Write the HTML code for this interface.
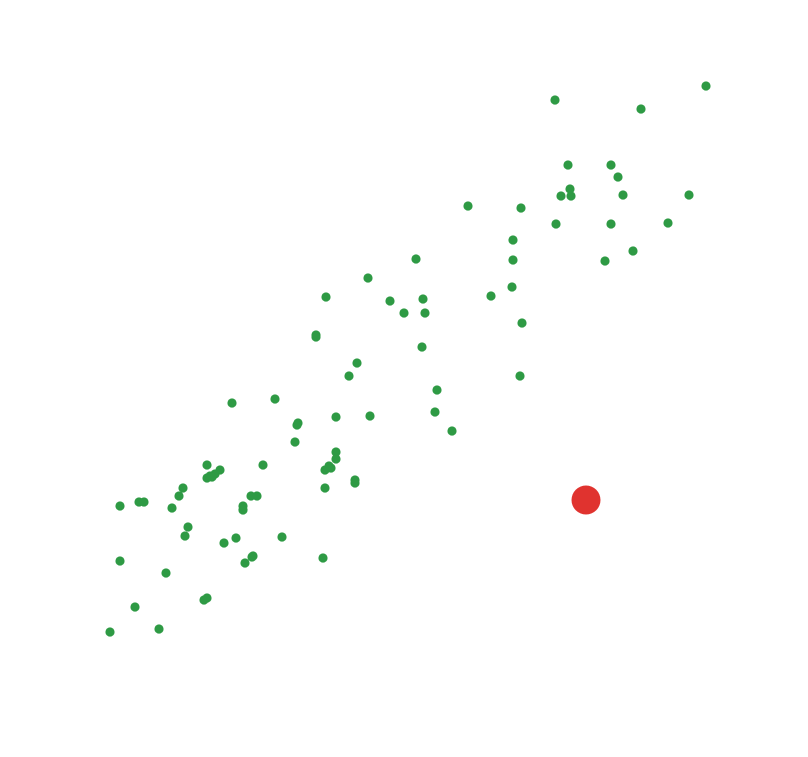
<!DOCTYPE html>
<html>
<head>
<meta charset="utf-8">
<style>
  html,body{margin:0;padding:0;background:#fff;}
  svg{display:block;}
</style>
</head>
<body>
<svg id="chart" width="808" height="757" viewBox="0 0 808 757" xmlns="http://www.w3.org/2000/svg">
  <g id="points"></g>
  <g id="highlight"></g>
</svg>
<script>
// Data values (arbitrary units, x from left origin, y upward from bottom)
const xs = [596,445,531,458,501,508,460,451,461,513,579,358,411,446,501,558,403,523,403,495,306,258,216,280,313,381,402,294,315,412,206,206,312,247,239,410,327,122,165,188,187,325,226,260,342,185,226,226,219,215,221,153,97,110,105,100,97,102,73,69,215,245,245,141,147,133,133,10,29,34,62,78,75,126,114,172,143,142,135,213,10,56,94,97,25,49,0];
const ys = [546,532,523,467,467,455,443,436,436,437,437,426,424,408,408,409,392,381,372,371,373,354,335,331,333,336,345,319,319,309,297,295,285,269,256,256,242,229,233,209,207,220,215,216,201,190,180,173,166,162,164,167,167,162,158,156,154,155,144,136,144,152,149,136,136,126,122,126,130,130,124,105,96,94,89,95,76,75,69,74,71,59,32,34,25,3,0];
const highlightX = [476];
const highlightY = [132];

const xScale = v => 110 + v;          // domain [0,600] -> [110,710]
const yScale = v => 632 - v;          // domain [0,600] -> [632,32]

const NS = "http://www.w3.org/2000/svg";
const g = document.getElementById('points');
for (let i = 0; i < xs.length; i++) {
  const c = document.createElementNS(NS, 'circle');
  c.setAttribute('cx', xScale(xs[i]));
  c.setAttribute('cy', yScale(ys[i]));
  c.setAttribute('r', 4.6);
  c.setAttribute('fill', '#2e9a44');
  
  
  g.appendChild(c);
}
const h = document.getElementById('highlight');
for (let i = 0; i < highlightX.length; i++) {
  const c = document.createElementNS(NS, 'circle');
  c.setAttribute('cx', xScale(highlightX[i]));
  c.setAttribute('cy', yScale(highlightY[i]));
  c.setAttribute('r', 14.5);
  c.setAttribute('fill', '#e0332f');
  
  
  h.appendChild(c);
}
</script>
</body>
</html>
